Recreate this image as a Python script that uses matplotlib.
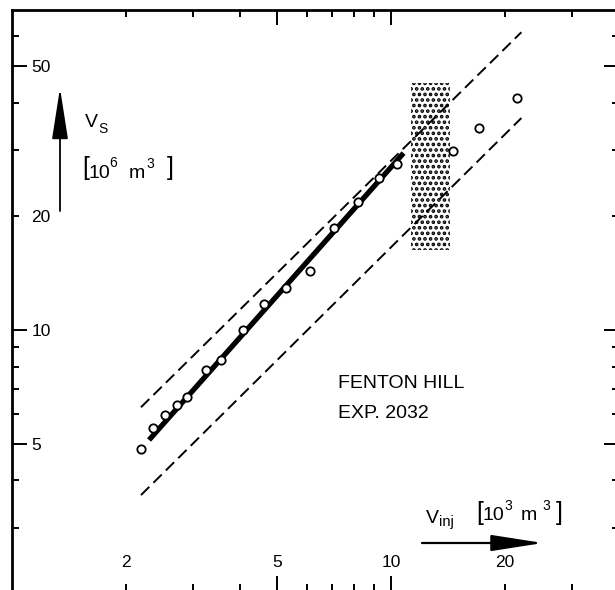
import matplotlib
matplotlib.use("Agg")
import matplotlib.pyplot as plt
from matplotlib.patches import Rectangle, FancyArrowPatch

plt.rcParams['font.family'] = ['Liberation Sans', 'DejaVu Sans']
plt.rcParams['font.size'] = 12.5
plt.rcParams['hatch.linewidth'] = 1.8

# ---- data ----
# injected volume [10^3 m^3] vs. seismic volume [10^6 m^3]
v_inj = [2.19, 2.36, 2.53, 2.73, 2.90, 3.25, 3.56, 4.07, 4.62, 5.28,
         6.11, 7.09, 8.17, 9.33, 10.4, 14.6, 17.1, 21.5]
v_s = [4.84, 5.51, 5.96, 6.34, 6.65, 7.84, 8.34, 10.0, 11.7, 12.9,
       14.3, 18.6, 21.8, 25.2, 27.5, 29.8, 34.2, 41.1]

# fitted trend (thick line)
fit_x = [2.30, 10.8]
fit_y = [5.12, 29.4]

# bounding lines (dashed)
upper_x = [2.19, 22.1]
upper_y = [6.25, 61.4]
lower_x = [2.19, 22.1]
lower_y = [3.66, 36.4]

# stippled band
band_x = [11.3, 14.3]
band_y = [16.3, 45.0]

x_major = [5, 10]
x_minor = [2, 3, 4, 6, 7, 8, 9, 20, 30]
x_minor_labels = ['2', '', '', '', '', '', '', '20', '']
y_major = [5, 10, 50]
y_minor = [3, 4, 6, 7, 8, 9, 20, 30, 40, 60]
y_minor_labels = ['', '', '', '', '', '', '20', '', '', '']

# ---- figure ----
fig = plt.figure(figsize=(6.15, 5.90), dpi=100)
ax = fig.add_axes([12 / 615, -1 / 590, 607 / 615, 581 / 590])
ax.set_xscale('log')
ax.set_yscale('log')
ax.set_xlim(1.0, 40.0)
ax.set_ylim(2.04, 70.3)

for sp in ax.spines.values():
    sp.set_linewidth(2.0)

ax.tick_params(axis='both', which='both', direction='in', top=True, right=True,
               width=1.4)
ax.tick_params(which='major', length=11)
ax.tick_params(which='minor', length=5)
ax.tick_params(axis='x', which='both', pad=-15)
ax.tick_params(axis='y', which='both', pad=-14)

ax.set_xticks(x_major, [str(v) for v in x_major], va='bottom')
ax.set_xticks(x_minor, x_minor_labels, minor=True, va='bottom')
ax.set_yticks(y_major, [str(v) for v in y_major], ha='left')
ax.set_yticks(y_minor, y_minor_labels, minor=True, ha='left')

# stippled region
ax.add_patch(Rectangle((band_x[0], band_y[0]), band_x[1] - band_x[0],
                       band_y[1] - band_y[0], facecolor='none',
                       edgecolor='k', lw=0, hatch='...', zorder=1))

# dashed envelope
ax.plot(upper_x, upper_y, color='k', lw=1.4, ls=(0, (6, 3)), zorder=2)
ax.plot(lower_x, lower_y, color='k', lw=1.4, ls=(0, (6, 3)), zorder=2)

# thick trend line
ax.plot(fit_x, fit_y, color='k', lw=3.8, solid_capstyle='butt', zorder=3)

# measured points
ax.plot(v_inj, v_s, 'o', ms=6, mfc='white', mec='k', mew=1.3, zorder=4)


# ---- annotations (positions in pixels of the 615x590 picture) ----
def put(px, py, s, size):
    ax.text((px - 12) / 607, (591 - py) / 581, s, transform=ax.transAxes,
            fontsize=size, va='baseline', ha='left')


def arrow(p0, p1, lw):
    ax.add_patch(FancyArrowPatch(((p0[0] - 12) / 607, (591 - p0[1]) / 581),
                                 ((p1[0] - 12) / 607, (591 - p1[1]) / 581),
                                 transform=ax.transAxes,
                                 arrowstyle='-|>,head_length=3.2,head_width=0.5',
                                 mutation_scale=10, lw=lw, color='k',
                                 shrinkA=0, shrinkB=0))


# y quantity: V_S [10^6 m^3]
put(85, 127, 'V', 14)
put(98, 133, 'S', 10)
put(82, 175, '[', 18)
put(89, 178, '10', 14)
put(109, 167, '6', 10)
put(129, 178, 'm', 14)
put(146, 168, '3', 10)
put(167, 175, ']', 18)
arrow((60, 211), (60, 88), 1.3)

ax.text((338 - 12) / 607, (591 - 383) / 581, 'FENTON HILL',
        transform=ax.transAxes, fontsize=14, va='center', ha='left')
ax.text((338 - 12) / 607, (591 - 413) / 581, 'EXP. 2032',
        transform=ax.transAxes, fontsize=14, va='center', ha='left')

# x quantity: V_inj [10^3 m^3]
put(426, 523, 'V', 14)
put(439, 526, 'inj', 10.5)
put(476, 520, '[', 18)
put(483, 520, '10', 14)
put(504, 510, '3', 10)
put(521, 520, 'm', 14)
put(542, 510, '3', 10)
put(556, 520, ']', 18)
arrow((422, 543), (543, 543), 1.6)

fig.savefig('out.png', dpi=100)
